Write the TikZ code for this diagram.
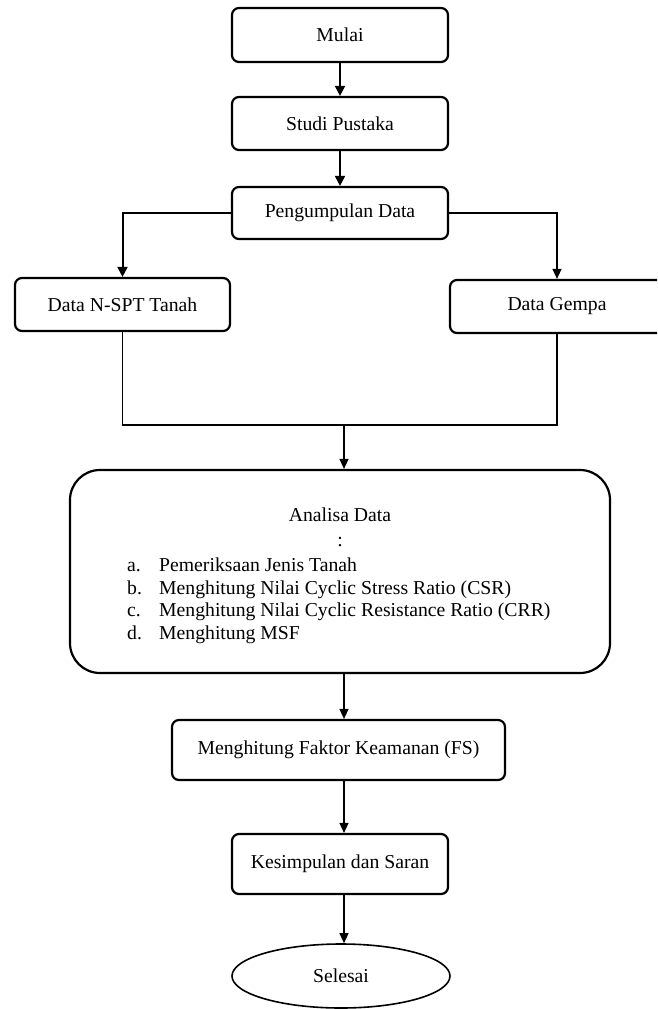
\documentclass[tikz,border=0pt]{standalone}
\usepackage{fontspec}
\setmainfont{Liberation Serif}
\usetikzlibrary{arrows.meta,shapes.geometric}
\begin{document}
\begin{tikzpicture}[x=1pt,y=-1pt,
  txt/.style={font=\fontsize{19.7}{23}\selectfont},
  box/.style={draw,line width=2.2pt,rounded corners=7pt,minimum width=216pt,minimum height=54pt,inner sep=0pt,txt},
  conn/.style={line width=1.3pt,-{Triangle[width=9pt,length=10pt]}},
  thickconn/.style={line width=2pt,-{Triangle[width=10pt,length=10pt]}},
  plain/.style={line width=1.3pt},
  item/.style={txt,anchor=base west,inner sep=0pt}]
\useasboundingbox (0,0) rectangle (657,1009);
\clip (0,0) rectangle (657,1009);
\node[box] (mulai) at (340,35) {Mulai};
\node[box, minimum height=53pt] (studi) at (340,123.5) {Studi Pustaka};
\node[box, minimum height=52pt] (peng) at (340,213) {Pengumpulan Data};
\node[box, minimum width=215pt, minimum height=53pt] (nspt) at (122.5,304.5) {Data N-SPT Tanah};
\node[box, minimum width=214pt, minimum height=53pt] (gempa) at (557,306.5) {Data Gempa};
\node[box, minimum width=540pt, minimum height=203pt, rounded corners=30pt] (ana) at (340,571.5) {};
\node[txt, inner sep=0pt] (anat) at (340,515) {Analisa Data};
\node[txt, inner sep=0pt] (colon) at (340,542) {:};
\node[item] (la) at (127,571) {a.};
\node[item] (ta) at (159,571) {Pemeriksaan Jenis Tanah};
\node[item] (lb) at (127,594) {b.};
\node[item] (tb) at (159,594) {Menghitung Nilai Cyclic Stress Ratio (CSR)};
\node[item] (lc) at (127,616) {c.};
\node[item] (tc) at (159,616) {Menghitung Nilai Cyclic Resistance Ratio (CRR)};
\node[item] (ld) at (127,639) {d.};
\node[item] (td) at (159,639) {Menghitung MSF};
\node[box, minimum width=333pt, minimum height=60pt] (fs) at (338.5,750) {Menghitung Faktor Keamanan (FS)};
\node[box, minimum height=60pt] (kes) at (340,864) {Kesimpulan dan Saran};
\node[draw, ellipse, line width=1.6pt, minimum width=218pt, minimum height=64pt, inner sep=0pt, txt] (sel) at (341,976) {Selesai};
\draw[thickconn] (mulai) -- (studi);
\draw[thickconn] (studi) -- (peng);
\draw[thickconn] (peng.west) -| (nspt.north);
\draw[conn] (peng.east) -| (gempa.north);
\coordinate (join) at (344,425);
\draw[plain] (nspt.south) -- (nspt.south |- join) -| (gempa.south);
\draw[conn] (join) -- (join |- ana.north);
\draw[conn] (ana.south -| join) -- (join |- fs.north);
\draw[conn] (fs.south -| join) -- (join |- kes.north);
\draw[conn] (kes.south -| join) -- (join |- sel.north);
\end{tikzpicture}
\end{document}
